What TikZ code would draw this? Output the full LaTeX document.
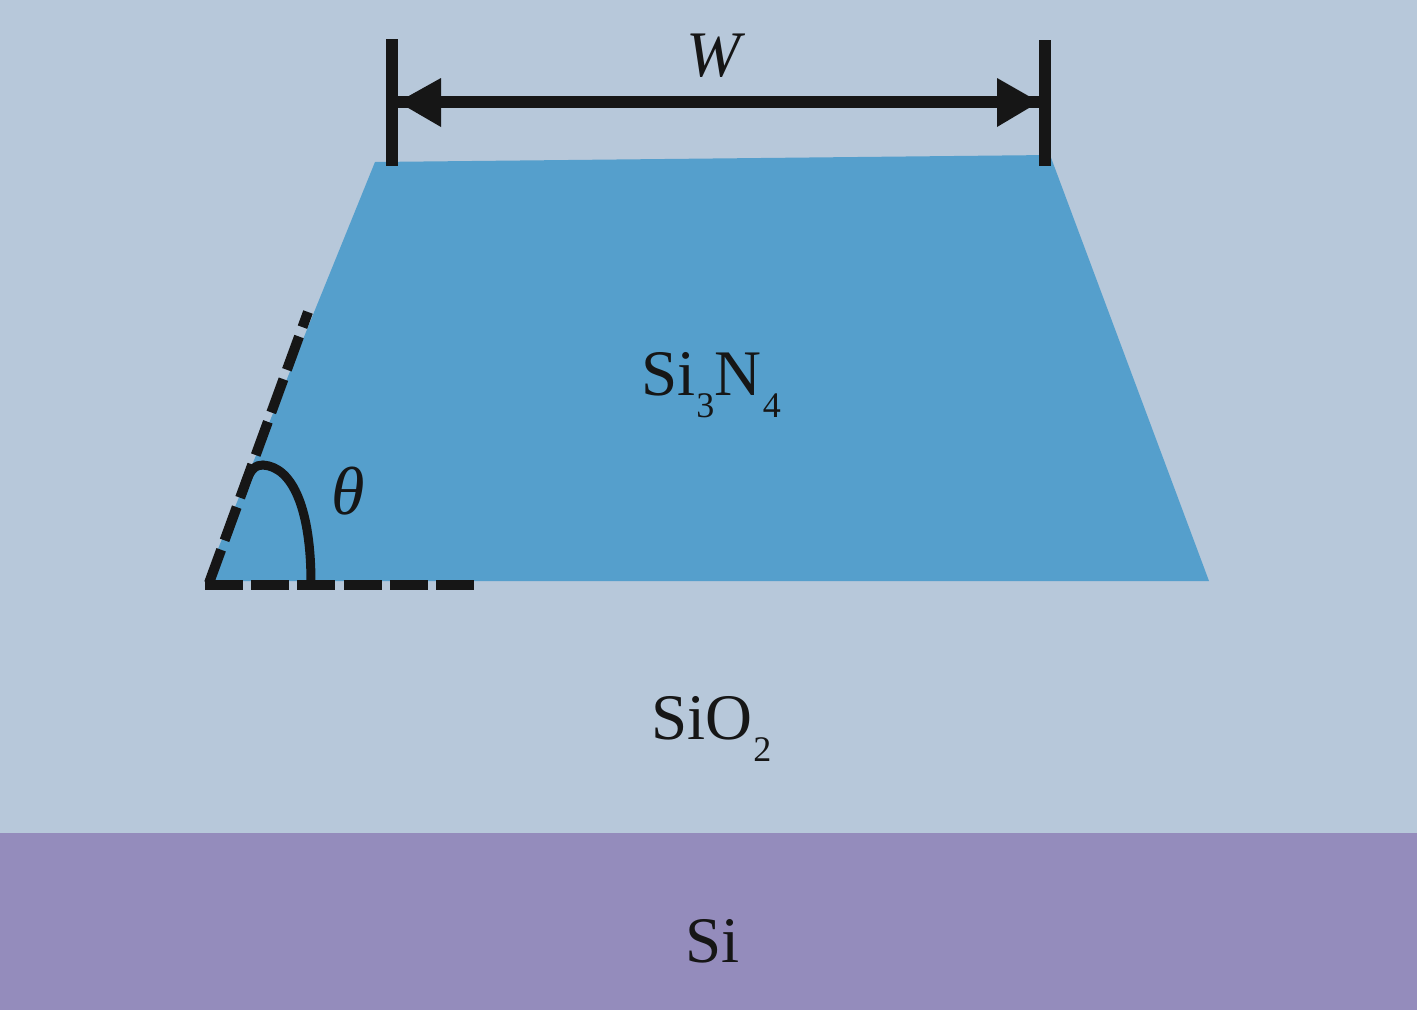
\documentclass[tikz,border=0pt]{standalone}
\usepackage{fontspec}
\setmainfont{Liberation Serif}
\definecolor{oxide}{HTML}{B7C8DA}
\definecolor{nitride}{HTML}{559FCC}
\definecolor{silicon}{HTML}{948CBC}
\definecolor{ink}{HTML}{161616}
\newcommand{\lowsub}[1]{\kern1pt\raisebox{-22pt}{\fontsize{36pt}{36pt}\selectfont #1}\kern0.5pt}
\tikzset{
  lbl/.style={font=\fontsize{65pt}{65pt}\selectfont,text=ink,inner sep=0pt},
  barline/.style={draw=ink,line width=12pt},
  guideup/.style={draw=ink,line width=10pt,dash pattern=on 35.4pt off 10pt},
  guideflat/.style={draw=ink,line width=10pt,dash pattern=on 38pt off 8.2pt},
}
\begin{document}
\begin{tikzpicture}[x=1pt,y=-1pt]
\useasboundingbox (0,0) rectangle (1417,1010);
\fill[oxide] (0,0) rectangle (1417,1010);
\fill[silicon] (0,833) rectangle (1417,1010);
\fill[nitride] (375,162) -- (1050,155) -- (1209,581) -- (205,581) -- cycle;
\coordinate (apex) at (209,583);
\coordinate (slopeEnd) at (308,312);
\coordinate (baseStart) at (205,584.5);
\coordinate (baseEnd) at (475,584.5);
\draw[guideup] (apex) -- (slopeEnd);
\draw[guideflat] (baseStart) -- (baseEnd);
\draw[draw=ink,line width=9pt] (245,484) .. controls (251,468) and (256,465) .. (263,465) .. controls (293,467) and (311,510) .. (311,583);
\coordinate (wl) at (392,39);
\coordinate (wlb) at (392,166);
\coordinate (wr) at (1045,40);
\coordinate (wrb) at (1045,166);
\draw[barline] (wl) -- (wlb);
\draw[barline] (wr) -- (wrb);
\coordinate (al) at (398,102);
\coordinate (ar) at (1039,102);
\draw[barline] (al) -- (ar);
\fill[ink] (al) -- (441,78) -- (441,127) -- cycle;
\fill[ink] (ar) -- (997,78) -- (997,127) -- cycle;
\node[lbl] (w) at (716,56) {\textit{W}};
\node[lbl,font=\fontsize{68pt}{68pt}\selectfont] (theta) at (348,491) {\textit{θ}};
\node[lbl,anchor=base west] (sin) at (641,395) {Si\lowsub{3}N\lowsub{4}};
\node[lbl,anchor=base west] (sio) at (651,739) {SiO\lowsub{2}};
\node[lbl,anchor=base west] (si) at (685,962) {Si};
\end{tikzpicture}
\end{document}
